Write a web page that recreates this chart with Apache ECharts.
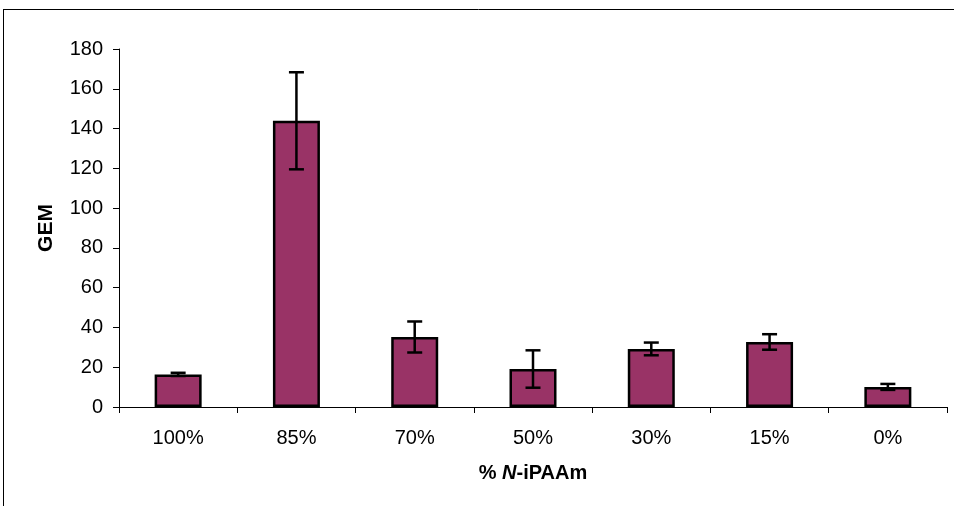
<!DOCTYPE html>
<html>
<head>
<meta charset="utf-8">
<script src="https://cdn.jsdelivr.net/npm/echarts@6/dist/echarts.min.js"></script>
<style>
html,body{margin:0;padding:0;background:#fff;}
#main{width:954px;height:506px;}
</style>
</head>
<body>
<div id="main"></div>
<script>
var categories = ['100%', '85%', '70%', '50%', '30%', '15%', '0%'];
var gemValues = [16.4, 143.9, 35.2, 19.1, 29.2, 32.7, 10.1];
var gemErrors = [0.8, 24.4, 7.8, 9.4, 3.2, 3.9, 1.5];
var yTicks = { min: 0, max: 180, interval: 20 };

var errorData = gemValues.map(function (v, i) {
  return [i, v - gemErrors[i], v + gemErrors[i]];
});

var FONT = '"Liberation Sans", Arial, sans-serif';
var chart = echarts.init(document.getElementById('main'));
chart.setOption({
  backgroundColor: '#ffffff',
  animation: false,
  grid: { left: 119, right: 7, top: 49, bottom: 99, containLabel: false },
  graphic: [
    { type: 'line', shape: { x1: 3, y1: 9.5, x2: 954, y2: 9.5 }, style: { stroke: '#000', lineWidth: 1 } },
    { type: 'line', shape: { x1: 3.5, y1: 9, x2: 3.5, y2: 506 }, style: { stroke: '#000', lineWidth: 1 } }
  ],
  xAxis: {
    type: 'category',
    data: categories,
    name: '% {i|N}-iPAAm',
    nameLocation: 'middle',
    nameGap: 56,
    nameTextStyle: {
      fontFamily: FONT, fontSize: 20, fontWeight: 'bold', color: '#000',
      rich: { i: { fontFamily: FONT, fontSize: 20, fontWeight: 'bold', fontStyle: 'italic', color: '#000' } }
    },
    axisLine: { lineStyle: { color: '#000', width: 1 } },
    axisTick: { show: true, length: 6, lineStyle: { color: '#000' } },
    axisLabel: { fontFamily: FONT, fontSize: 20, color: '#000', margin: 21 },
    splitLine: { show: false }
  },
  yAxis: {
    type: 'value',
    min: yTicks.min, max: yTicks.max, interval: yTicks.interval,
    name: 'GEM',
    nameLocation: 'middle',
    nameGap: 62,
    nameTextStyle: { fontFamily: FONT, fontSize: 21, fontWeight: 'bold', color: '#000' },
    axisLine: { show: true, lineStyle: { color: '#000', width: 1 } },
    axisTick: { show: true, length: 6, lineStyle: { color: '#000' } },
    axisLabel: { fontFamily: FONT, fontSize: 20, color: '#000', margin: 16 },
    splitLine: { show: false }
  },
  series: [
    {
      type: 'bar',
      data: gemValues,
      barWidth: 47,
      itemStyle: { color: '#993366', borderColor: '#000', borderWidth: 2.5 },
      z: 2
    },
    {
      type: 'custom',
      data: errorData,
      z: 5,
      renderItem: function (params, api) {
        var x = api.value(0);
        var lo = api.coord([x, api.value(1)]);
        var hi = api.coord([x, api.value(2)]);
        var hw = 7.5;
        var st = { stroke: '#000', lineWidth: 2.5 };
        return {
          type: 'group',
          children: [
            { type: 'line', shape: { x1: hi[0], y1: hi[1], x2: lo[0], y2: lo[1] }, style: st },
            { type: 'line', shape: { x1: hi[0] - hw, y1: hi[1], x2: hi[0] + hw, y2: hi[1] }, style: st },
            { type: 'line', shape: { x1: lo[0] - hw, y1: lo[1], x2: lo[0] + hw, y2: lo[1] }, style: st }
          ]
        };
      }
    }
  ]
});
</script>
</body>
</html>
